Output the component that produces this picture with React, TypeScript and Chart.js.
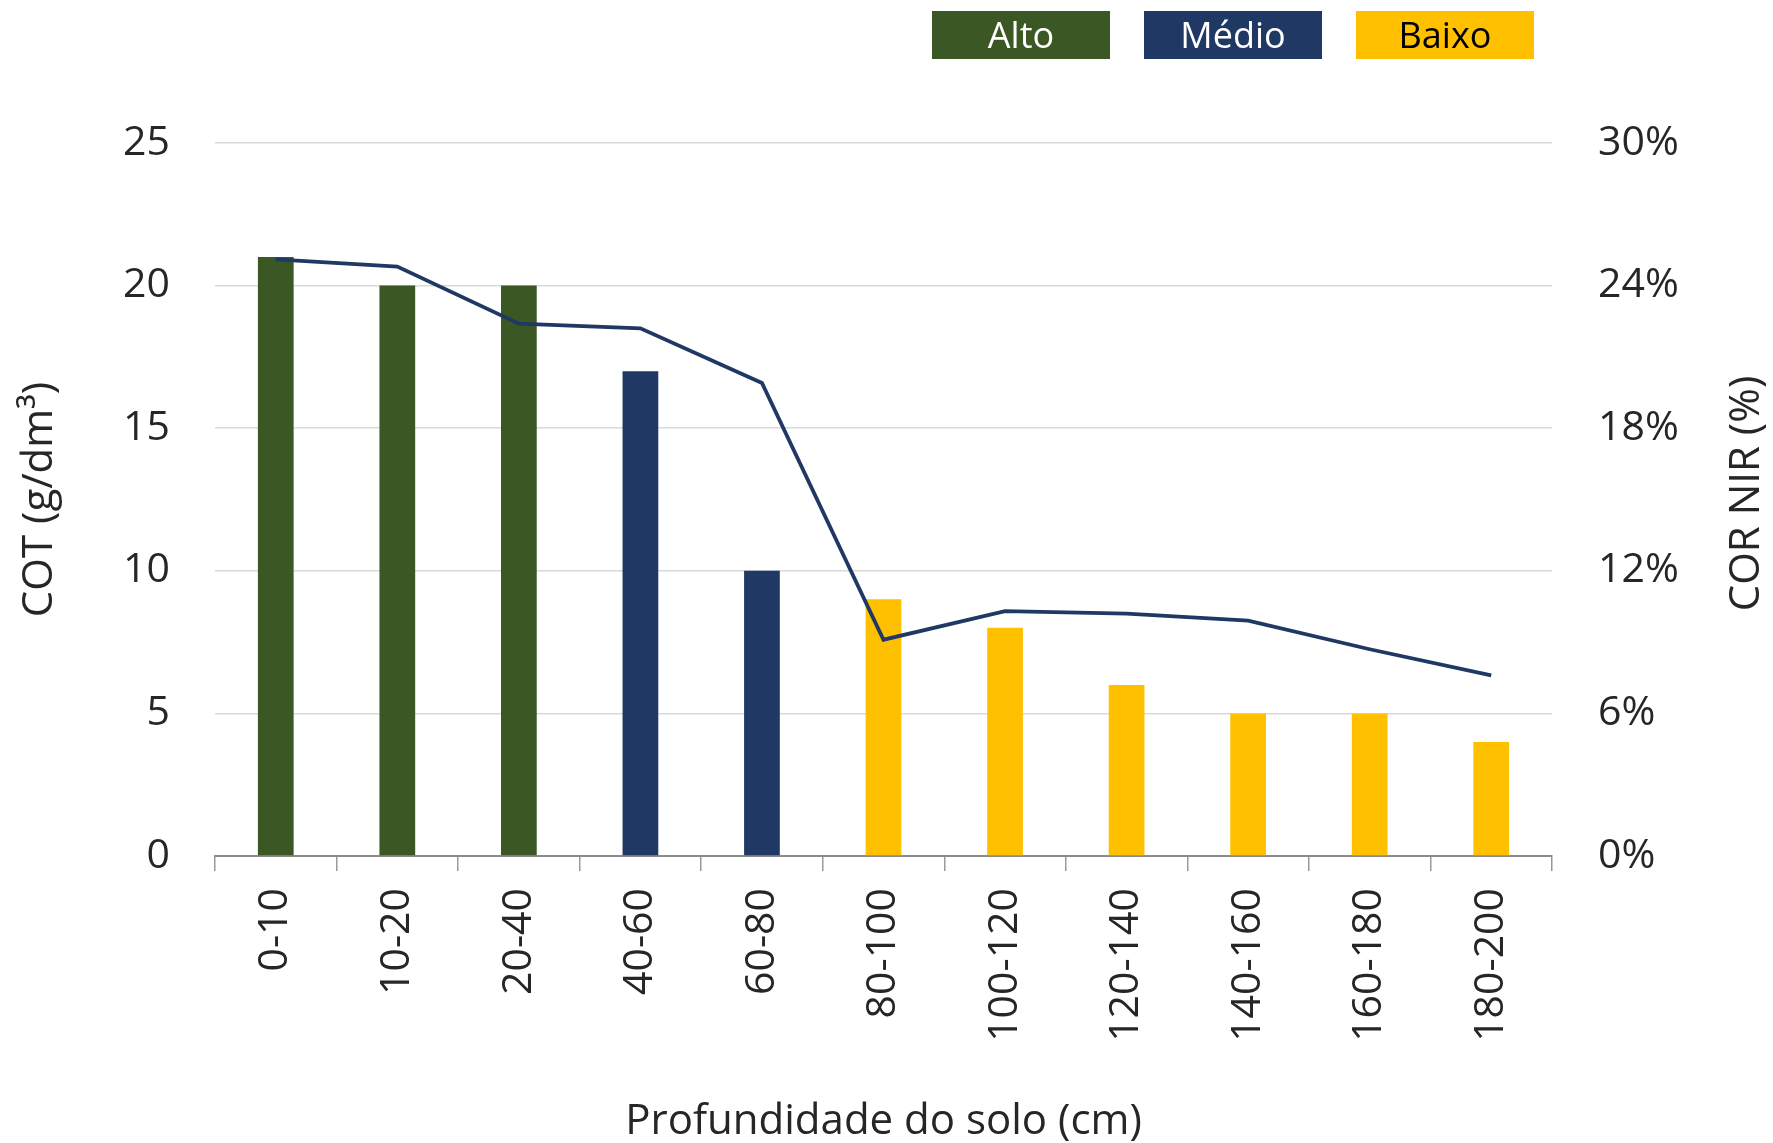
import React, { useEffect, useRef } from "react";
import { Chart, registerables } from "chart.js";

Chart.register(...registerables);

const categories = ["0-10", "10-20", "20-40", "40-60", "60-80", "80-100", "100-120", "120-140", "140-160", "160-180", "180-200"];
const cotValues = [21, 20, 20, 17, 10, 9, 8, 6, 5, 5, 4];
const corNirValues = [25.1, 24.8, 22.4, 22.2, 19.9, 9.1, 10.3, 10.2, 9.9, 8.7, 7.6];
const levels = ["Alto", "Alto", "Alto", "Médio", "Médio", "Baixo", "Baixo", "Baixo", "Baixo", "Baixo", "Baixo"];
const legendLabels = ["Alto", "Médio", "Baixo"];
const leftAxisMax = 25;
const leftAxisStep = 5;
const rightAxisMax = 30;
const rightAxisStep = 6;
const xTitle = "Profundidade do solo (cm)";
const leftTitle = "COT (g/dm³)";
const rightTitle = "COR NIR (%)";

const levelColors: Record<string, string> = { Alto: "#3A5724", "Médio": "#203864", Baixo: "#FFC000" };
const legendTextColors: Record<string, string> = { Alto: "#FFFFFF", "Médio": "#FFFFFF", Baixo: "#000000" };
const lineColor = "#203864";
const textColor = "#262626";
const FONT = "'Open Sans', 'DejaVu Sans', sans-serif";

const W = 1773;
const H = 1143;
const PLOT_TOP = 143;
const PLOT_BOTTOM = 856;
const PLOT_LEFT = 215;
const PLOT_RIGHT = 1552;

const decorPlugin = {
  id: "decor",
  afterDraw(chart: any) {
    const ctx = chart.ctx as CanvasRenderingContext2D;
    const area = chart.chartArea;
    ctx.save();
    const boxW = 178;
    const boxH = 48;
    const gap = 34;
    const startX = 932;
    const y = 11;
    ctx.font = `36px ${FONT}`;
    ctx.textAlign = "center";
    ctx.textBaseline = "middle";
    legendLabels.forEach((lab, i) => {
      const x = startX + i * (boxW + gap);
      ctx.fillStyle = levelColors[lab];
      ctx.fillRect(x, y, boxW, boxH);
      ctx.fillStyle = legendTextColors[lab];
      ctx.fillText(lab, x + boxW / 2, y + boxH / 2 + 3);
    });
    ctx.font = `42px ${FONT}`;
    ctx.fillStyle = textColor;
    ctx.translate(1747, (area.top + area.bottom) / 2 - 6);
    ctx.rotate(-Math.PI / 2);
    ctx.fillText(rightTitle, 0, 0);
    ctx.restore();
  },
};

export default function App() {
  const ref = useRef<HTMLCanvasElement | null>(null);
  useEffect(() => {
    if (!ref.current) return;
    const chart = new Chart(ref.current, {
      type: "bar",
      data: {
        labels: categories,
        datasets: [
          {
            type: "line",
            label: rightTitle,
            data: corNirValues,
            yAxisID: "y1",
            borderColor: lineColor,
            backgroundColor: lineColor,
            borderWidth: 3.8,
            pointRadius: 0,
            tension: 0,
            order: 0,
          } as any,
          {
            type: "bar",
            label: leftTitle,
            data: cotValues,
            yAxisID: "y",
            backgroundColor: levels.map((l) => levelColors[l]),
            barPercentage: 0.294,
            categoryPercentage: 1,
            order: 1,
          } as any,
        ],
      },
      options: {
        responsive: false,
        animation: false,
        layout: { padding: { top: PLOT_TOP, left: 0, right: 0, bottom: 0 } },
        plugins: { legend: { display: false }, tooltip: { enabled: false } },
        scales: {
          x: {
            offset: true,
            grid: {
              display: true,
              drawOnChartArea: false,
              drawTicks: true,
              tickLength: 15,
              color: "#999999",
              lineWidth: 1.5,
            },
            border: { display: true, color: "#8c8c8c", width: 2 },
            ticks: {
              minRotation: 90,
              maxRotation: 90,
              autoSkip: false,
              padding: 17,
              color: textColor,
              font: { family: FONT, size: 41 },
            },
            title: {
              display: true,
              text: xTitle,
              color: textColor,
              font: { family: FONT, size: 42, lineHeight: 1.0 },
              padding: { top: 0, bottom: 0 },
            },
            afterFit(scale: any) {
              scale.height = H - PLOT_BOTTOM;
            },
          },
          y: {
            position: "left",
            min: 0,
            max: leftAxisMax,
            grid: { color: "#d9d9d9", lineWidth: 1.5, drawTicks: false },
            border: { display: false },
            ticks: {
              stepSize: leftAxisStep,
              padding: 45,
              color: textColor,
              font: { family: FONT, size: 41 },
            },
            title: {
              display: true,
              text: leftTitle,
              color: textColor,
              font: { family: FONT, size: 42 },
              padding: { top: 15, bottom: 15 },
            },
            afterFit(scale: any) {
              scale.width = PLOT_LEFT;
            },
          },
          y1: {
            position: "right",
            min: 0,
            max: rightAxisMax,
            grid: { drawOnChartArea: false, drawTicks: false },
            border: { display: false },
            ticks: {
              stepSize: rightAxisStep,
              padding: 46,
              color: textColor,
              font: { family: FONT, size: 41 },
              callback: (v: any) => `${v}%`,
            },
            afterFit(scale: any) {
              scale.width = W - PLOT_RIGHT;
            },
          },
        },
      },
      plugins: [decorPlugin],
    });
    return () => chart.destroy();
  }, []);

  return (
    <div style={{ position: "fixed", left: 0, top: 0, width: W, height: H, background: "#fff" }}>
      <canvas ref={ref} width={W} height={H} style={{ width: W, height: H, display: "block" }} />
    </div>
  );
}
